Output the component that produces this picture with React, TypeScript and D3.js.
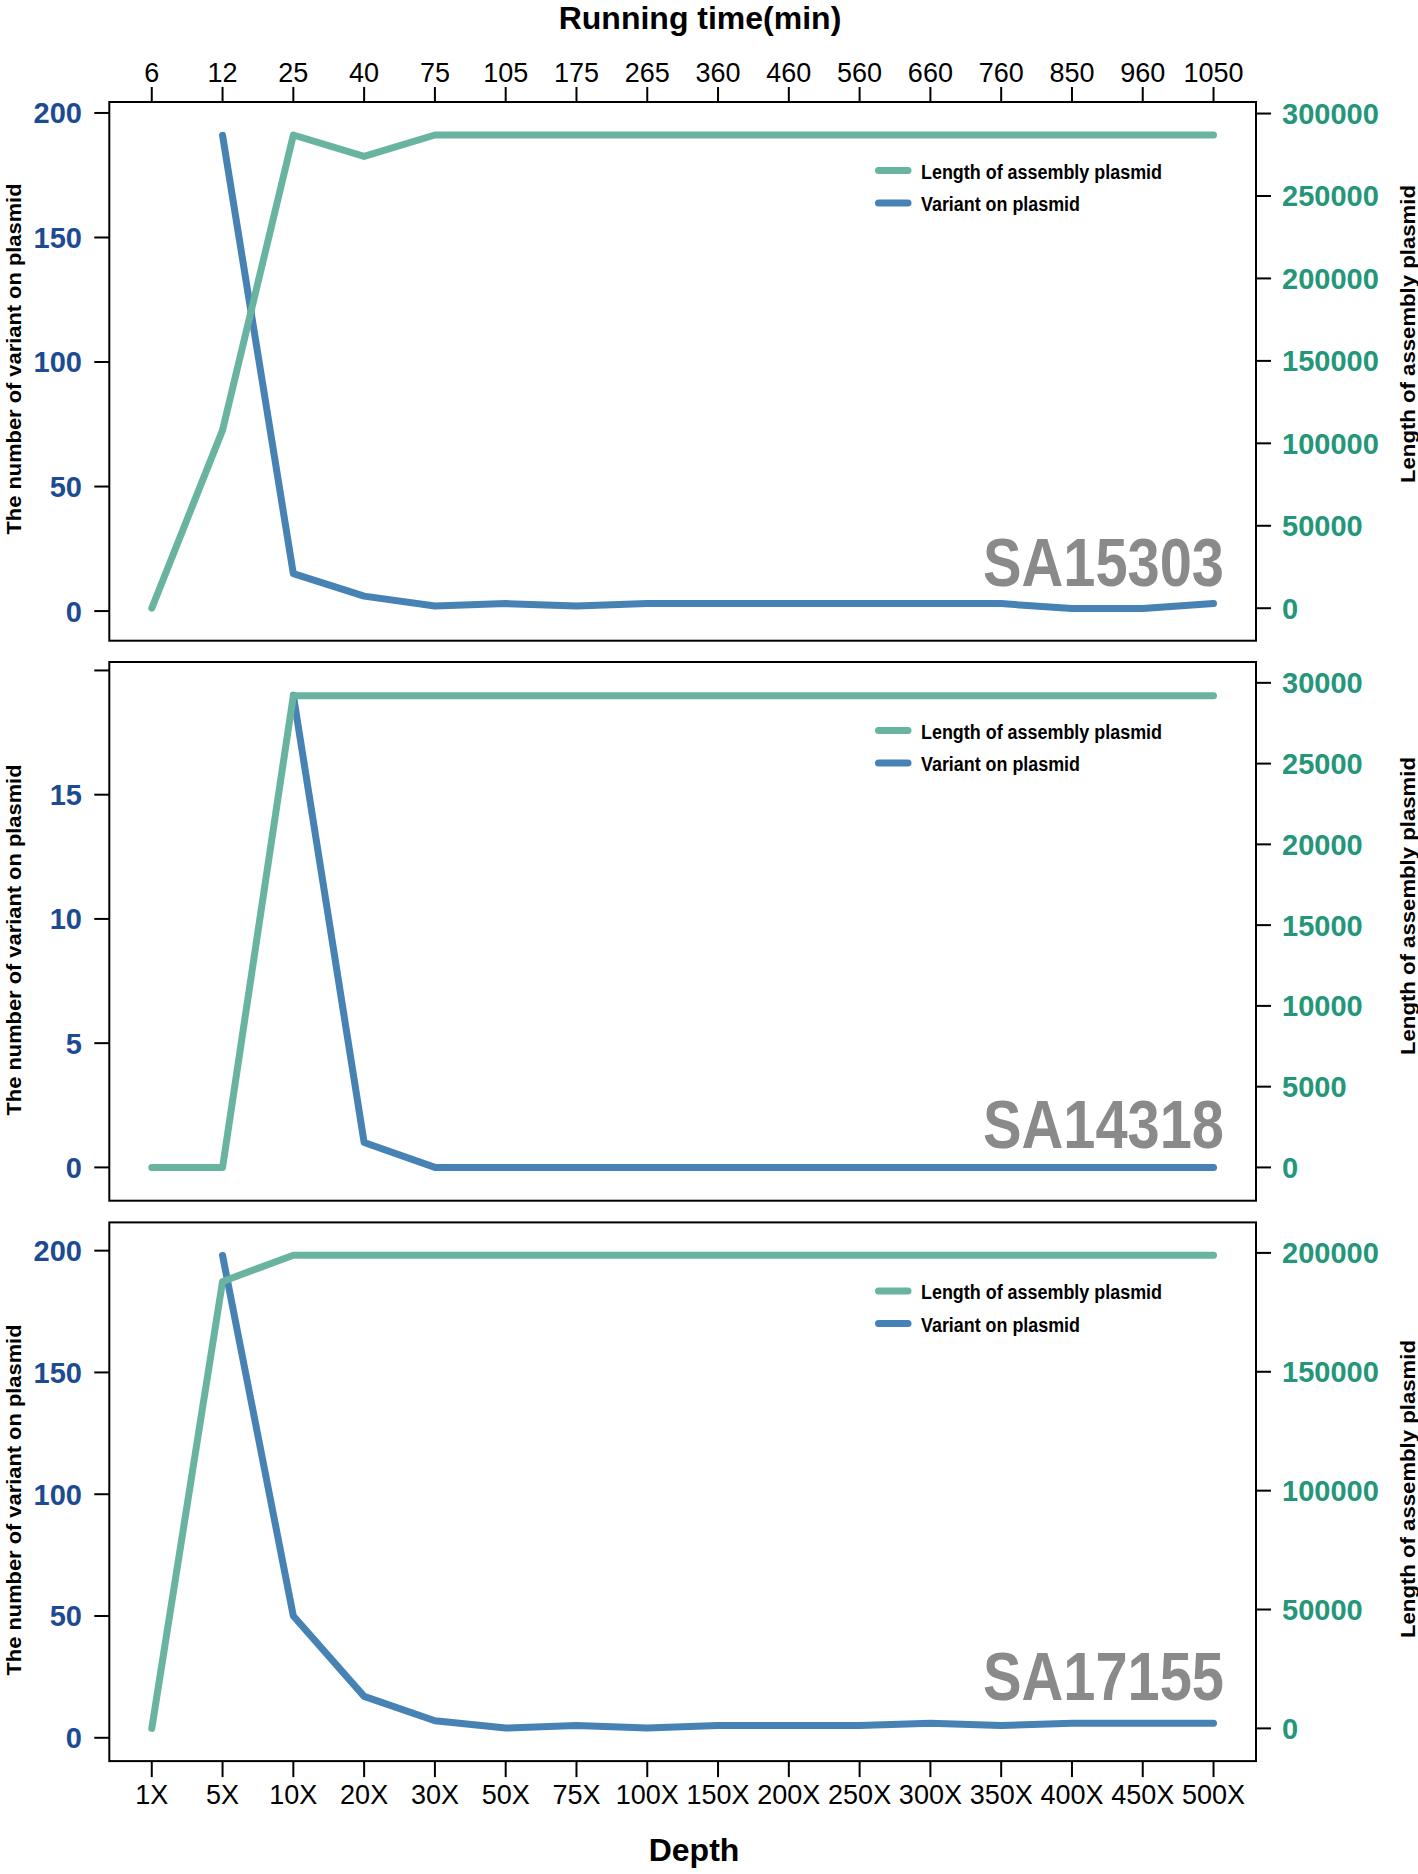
import React from "react";
import * as d3 from "d3";

// x categories (bottom axis) and running time (top axis)
const depthLabels = [
  "1X", "5X", "10X", "20X", "30X", "50X", "75X", "100X",
  "150X", "200X", "250X", "300X", "350X", "400X", "450X", "500X",
];
const runningTimes = [6, 12, 25, 40, 75, 105, 175, 265, 360, 460, 560, 660, 760, 850, 960, 1050];

const sampleNames = ["SA15303", "SA14318", "SA17155"];

// variants on plasmid (left axis), null = not plotted
const variantsSA15303 = [null, 191, 15, 6, 2, 3, 2, 3, 3, 3, 3, 3, 3, 1, 1, 3];
const variantsSA14318 = [null, null, 19, 1, 0, 0, 0, 0, 0, 0, 0, 0, 0, 0, 0, 0];
const variantsSA17155 = [null, 198, 50, 17, 7, 4, 5, 4, 5, 5, 5, 6, 5, 6, 6, 6];

// length of assembly plasmid (right axis)
const lengthSA15303 = [0, 108000, 287000, 274000, 287000, 287000, 287000, 287000, 287000, 287000, 287000, 287000, 287000, 287000, 287000, 287000];
const lengthSA14318 = [0, 0, 29200, 29200, 29200, 29200, 29200, 29200, 29200, 29200, 29200, 29200, 29200, 29200, 29200, 29200];
const lengthSA17155 = [0, 188000, 199000, 199000, 199000, 199000, 199000, 199000, 199000, 199000, 199000, 199000, 199000, 199000, 199000, 199000];

// axis ticks
const leftTicksSA15303 = [0, 50, 100, 150, 200];
const leftTicksSA14318 = [0, 5, 10, 15, 20];
const leftTicksSA17155 = [0, 50, 100, 150, 200];
const rightTicksSA15303 = [0, 50000, 100000, 150000, 200000, 250000, 300000];
const rightTicksSA14318 = [0, 5000, 10000, 15000, 20000, 25000, 30000];
const rightTicksSA17155 = [0, 50000, 100000, 150000, 200000];

// axis limits (bottom, top of the plot box)
const leftDomainSA15303 = [-11.9, 204.4];
const leftDomainSA14318 = [-1.34, 20.34];
const leftDomainSA17155 = [-9.57, 211.6];
const rightDomainSA15303 = [-19700, 307000];
const rightDomainSA14318 = [-2060, 31290];
const rightDomainSA17155 = [-13760, 212830];

const panels = [
  {
    name: sampleNames[0], variants: variantsSA15303, lengths: lengthSA15303,
    leftTicks: leftTicksSA15303, rightTicks: rightTicksSA15303,
    leftDomain: leftDomainSA15303, rightDomain: rightDomainSA15303,
    hideTop: false, top: 102, nameOffset: 55, leftTitleY: 359, rightTitleY: 334,
  },
  {
    name: sampleNames[1], variants: variantsSA14318, lengths: lengthSA14318,
    leftTicks: leftTicksSA14318, rightTicks: rightTicksSA14318,
    leftDomain: leftDomainSA14318, rightDomain: rightDomainSA14318,
    hideTop: true, top: 662, nameOffset: 52.5, leftTitleY: 940, rightTitleY: 906,
  },
  {
    name: sampleNames[2], variants: variantsSA17155, lengths: lengthSA17155,
    leftTicks: leftTicksSA17155, rightTicks: rightTicksSA17155,
    leftDomain: leftDomainSA17155, rightDomain: rightDomainSA17155,
    hideTop: false, top: 1222.4, nameOffset: 61.5, leftTitleY: 1500, rightTitleY: 1489,
  },
];

const W = 1418;
const H = 1874;
const LEFT = 109.3;
const RIGHT = 1256;
const PANEL_H = 538.7;
const TICK = 15;
const FONT = "'Liberation Sans', Arial, Helvetica, sans-serif";
const GREEN = "#69b4a1";
const BLUE = "#4682b4";
const LEFT_LABEL = "#1d4b91";
const RIGHT_LABEL = "#25967a";
const GREY = "#8a8a8a";

const x = d3
  .scalePoint<number>()
  .domain(d3.range(depthLabels.length))
  .range([LEFT, RIGHT])
  .padding(0.6);

const Panel = ({ p }: { p: (typeof panels)[number] }) => {
  const bottom = p.top + PANEL_H;
  const yL = d3.scaleLinear().domain(p.leftDomain).range([bottom, p.top]);
  const yR = d3.scaleLinear().domain(p.rightDomain).range([bottom, p.top]);

  const variantLine = d3
    .line<number | null>()
    .defined((d) => d !== null)
    .x((_, i) => x(i) as number)
    .y((d) => yL(d as number));
  const lengthLine = d3
    .line<number>()
    .x((_, i) => x(i) as number)
    .y((d) => yR(d));

  return (
    <g>
      <path d={variantLine(p.variants) || ""} fill="none" stroke={BLUE} strokeWidth={7}
        strokeLinecap="round" strokeLinejoin="round" />
      <path d={lengthLine(p.lengths) || ""} fill="none" stroke={GREEN} strokeWidth={7}
        strokeLinecap="round" strokeLinejoin="round" />

      {/* box */}
      <rect x={LEFT} y={p.top} width={RIGHT - LEFT} height={PANEL_H} fill="none" stroke="#000" strokeWidth={2} />

      {/* left axis */}
      {p.leftTicks.map((t) => (
        <g key={"l" + t}>
          <line x1={LEFT - TICK} x2={LEFT} y1={yL(t)} y2={yL(t)} stroke="#000" strokeWidth={2} />
          {!(p.hideTop && t === p.leftTicks[p.leftTicks.length - 1]) && (
            <text x={82} y={yL(t)} dy="0.36em" textAnchor="end" fontFamily={FONT}
              fontWeight="bold" fontSize={29} fill={LEFT_LABEL}>{t}</text>
          )}
        </g>
      ))}
      <text transform={`translate(21,${p.leftTitleY}) rotate(-90)`} textAnchor="middle"
        fontFamily={FONT} fontWeight="bold" fontSize={20} textLength={351}
        lengthAdjust="spacingAndGlyphs">The number of variant on plasmid</text>

      {/* right axis */}
      {p.rightTicks.map((t) => (
        <g key={"r" + t}>
          <line x1={RIGHT} x2={RIGHT + TICK} y1={yR(t)} y2={yR(t)} stroke="#000" strokeWidth={2} />
          <text x={1282} y={yR(t)} dy="0.36em" textAnchor="start" fontFamily={FONT}
            fontWeight="bold" fontSize={29} fill={RIGHT_LABEL}>{t}</text>
        </g>
      ))}
      <text transform={`translate(1415,${p.rightTitleY}) rotate(-90)`} textAnchor="middle"
        fontFamily={FONT} fontWeight="bold" fontSize={20} textLength={298}
        lengthAdjust="spacingAndGlyphs">Length of assembly plasmid</text>

      {/* legend */}
      <line x1={878.5} x2={908} y1={p.top + 68.5} y2={p.top + 68.5} stroke={GREEN}
        strokeWidth={7} strokeLinecap="round" />
      <text x={921} y={p.top + 76.8} fontFamily={FONT} fontWeight="bold" fontSize={20}
        textLength={241} lengthAdjust="spacingAndGlyphs">Length of assembly plasmid</text>
      <line x1={878.5} x2={908} y1={p.top + 101} y2={p.top + 101} stroke={BLUE}
        strokeWidth={7} strokeLinecap="round" />
      <text x={921} y={p.top + 109.3} fontFamily={FONT} fontWeight="bold" fontSize={20}
        textLength={159} lengthAdjust="spacingAndGlyphs">Variant on plasmid</text>

      {/* sample name */}
      <text x={1224} y={bottom - p.nameOffset} textAnchor="end" fontFamily={FONT}
        fontWeight="bold" fontSize={69} fill={GREY} textLength={241}
        lengthAdjust="spacingAndGlyphs">{p.name}</text>
    </g>
  );
};

export default function App() {
  const firstTop = panels[0].top;
  const lastBottom = panels[panels.length - 1].top + PANEL_H;
  return (
    <svg width={W} height={H} style={{ position: "absolute", left: 0, top: 0, background: "#fff" }}>
      <rect width={W} height={H} fill="#fff" />
      <text x={700} y={29.4} textAnchor="middle" fontFamily={FONT} fontWeight="bold"
        fontSize={32}>Running time(min)</text>

      {/* top axis */}
      {runningTimes.map((t, i) => (
        <g key={"t" + i}>
          <line x1={x(i)} x2={x(i)} y1={firstTop} y2={firstTop - TICK} stroke="#000" strokeWidth={2} />
          <text x={x(i)} y={81.6} textAnchor="middle" fontFamily={FONT} fontSize={27}>{t}</text>
        </g>
      ))}

      {panels.map((p) => (
        <Panel key={p.name} p={p} />
      ))}

      {/* bottom axis */}
      {depthLabels.map((d, i) => (
        <g key={"b" + i}>
          <line x1={x(i)} x2={x(i)} y1={lastBottom} y2={lastBottom + 16} stroke="#000" strokeWidth={2} />
          <text x={x(i)} y={1804} textAnchor="middle" fontFamily={FONT} fontSize={27}>{d}</text>
        </g>
      ))}
      <text x={694} y={1861} textAnchor="middle" fontFamily={FONT} fontWeight="bold"
        fontSize={32}>Depth</text>
    </svg>
  );
}
